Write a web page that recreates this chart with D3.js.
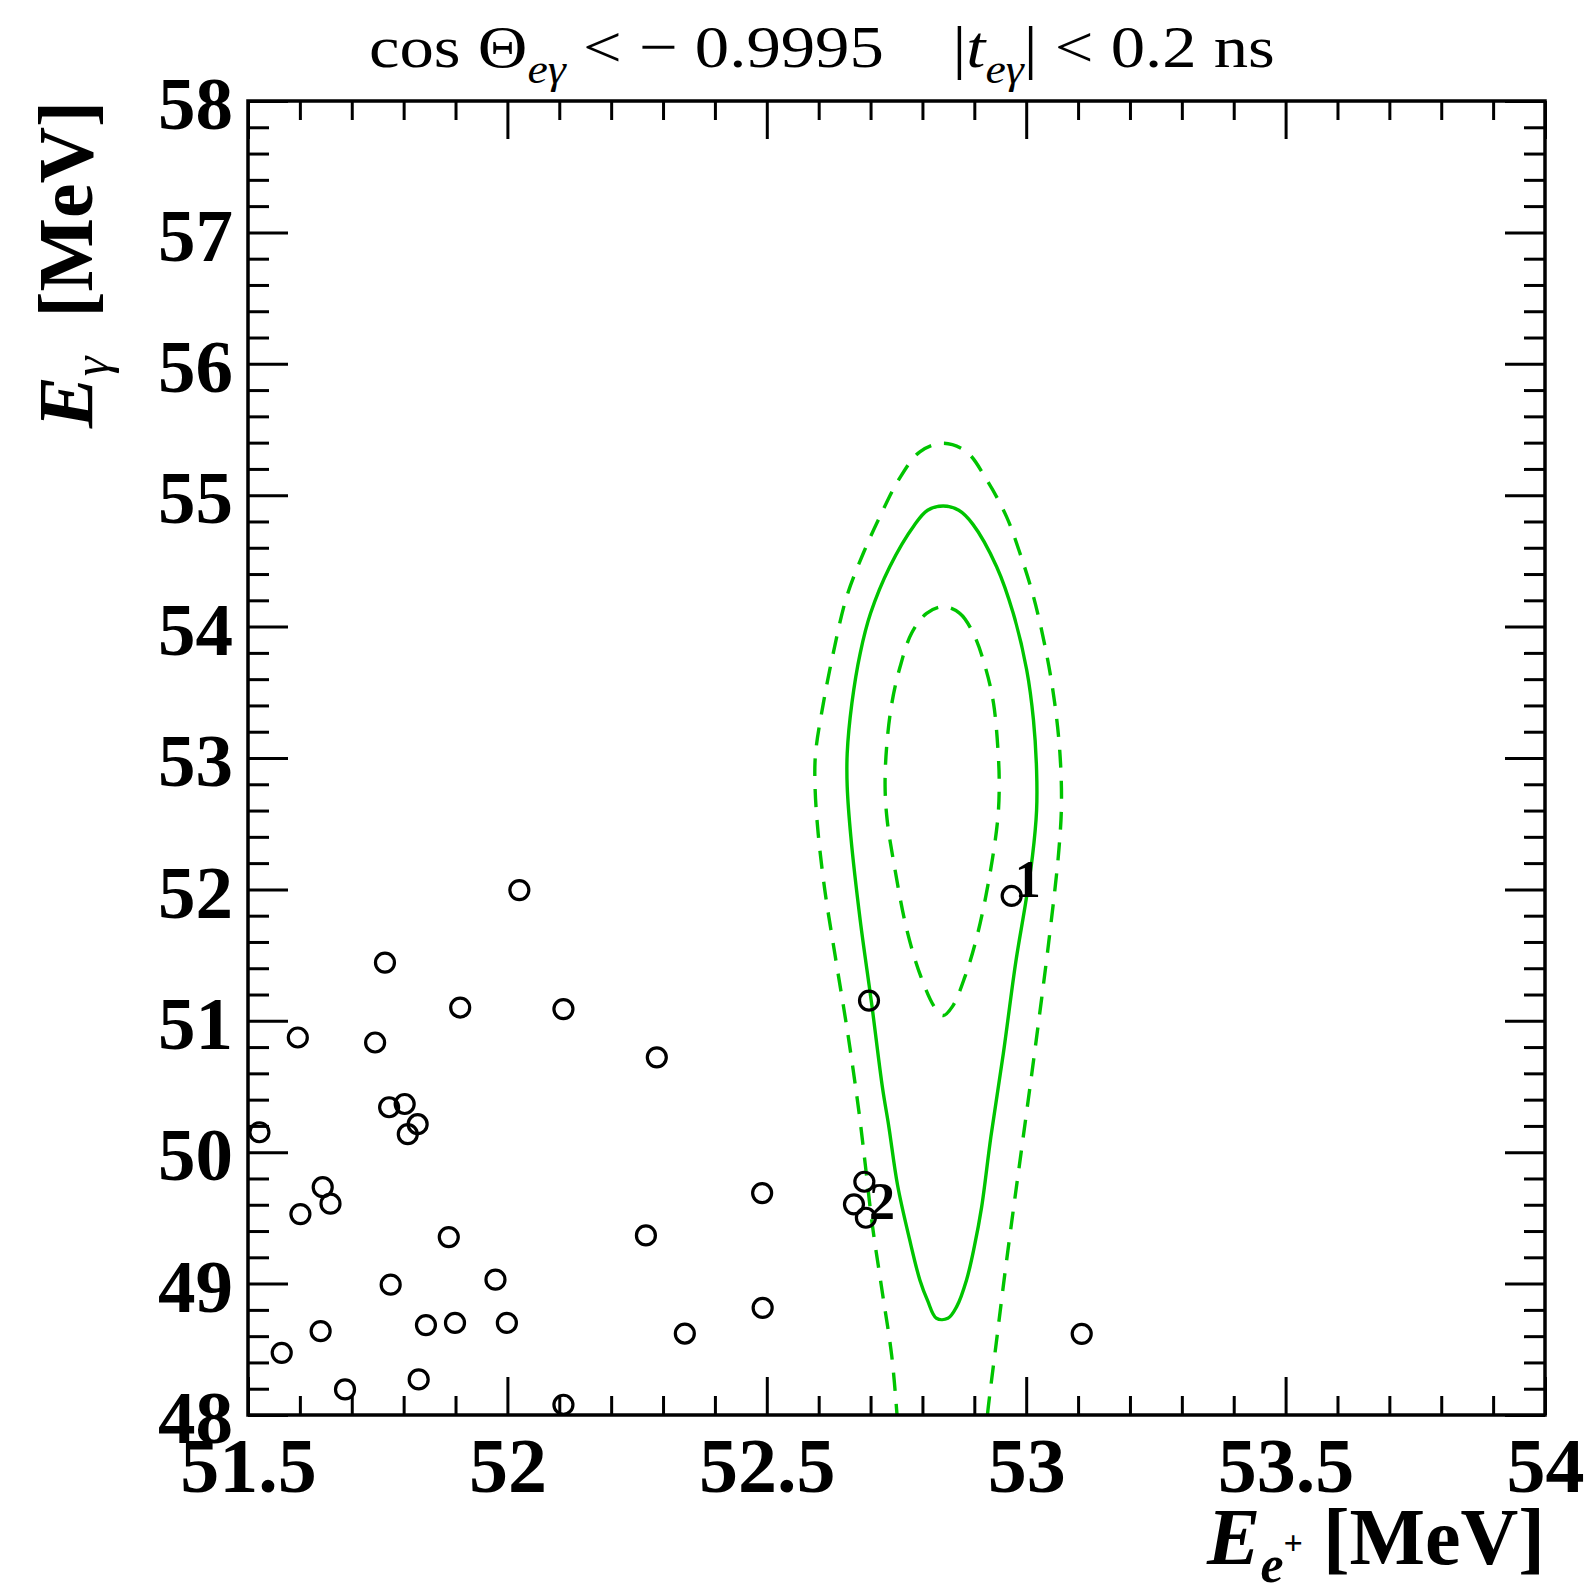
<!DOCTYPE html>
<html>
<head>
<meta charset="utf-8">
<script src="https://cdn.jsdelivr.net/npm/d3@7"></script>
<style>
  body { margin: 0; background: #fff; }
  svg { display: block; }
</style>
</head>
<body>
<svg id="chart" width="1584" height="1587"></svg>
<script>
// ---- data -------------------------------------------------------------
const xDomain = [51.5, 54];
const yDomain = [48, 58];
const xMajorTicks = [51.5, 52, 52.5, 53, 53.5, 54];
const yMajorTicks = [48, 49, 50, 51, 52, 53, 54, 55, 56, 57, 58];

// selected events: positron energy, photon energy (MeV)
const eventsEe = [52.023, 51.764, 51.909, 52.108, 51.596, 51.745, 52.288, 52.697, 52.972,
  51.522, 51.772, 51.802, 51.827, 51.808, 51.644, 51.659, 51.601, 51.887, 52.267,
  52.491, 52.688, 52.668, 52.691, 51.775, 51.977, 51.640, 51.843, 51.899, 51.999,
  52.492, 52.342, 53.107, 51.565, 51.687, 51.829, 52.108];
const eventsEg = [51.995, 51.443, 51.101, 51.089, 50.873, 50.835, 50.722, 51.154, 51.950,
  50.152, 50.342, 50.367, 50.213, 50.137, 49.734, 49.608, 49.529, 49.354, 49.367,
  49.689, 49.775, 49.603, 49.501, 48.992, 49.030, 48.638, 48.684, 48.701, 48.701,
  48.815, 48.620, 48.618, 48.473, 48.195, 48.271, 48.078];
// ranked candidates
const tagIndex = [8, 22];
const tagText = ["1", "2"];

// signal PDF contours: [E_e+, E_gamma]
const contourInner = [
  [52.840, 54.152], [52.872, 54.101], [52.898, 53.949], [52.921, 53.695], [52.937, 53.416],
  [52.946, 53.036], [52.948, 52.782], [52.945, 52.528], [52.928, 52.071], [52.905, 51.640],
  [52.882, 51.336], [52.858, 51.110], [52.840, 51.040], [52.824, 51.100], [52.797, 51.336],
  [52.770, 51.691], [52.745, 52.198], [52.732, 52.528], [52.728, 52.782], [52.731, 53.086],
  [52.741, 53.416], [52.757, 53.695], [52.779, 53.949], [52.808, 54.101]];
const contourMiddle = [
  [52.840, 54.918], [52.870, 54.885], [52.897, 54.780], [52.943, 54.456], [52.975, 54.101],
  [53.001, 53.670], [53.014, 53.289], [53.020, 52.909], [53.020, 52.600], [53.012, 52.250],
  [52.999, 51.900], [52.980, 51.450], [52.956, 50.753], [52.932, 50.120], [52.914, 49.580],
  [52.900, 49.281], [52.885, 49.028], [52.866, 48.825], [52.849, 48.736], [52.827, 48.736],
  [52.810, 48.870], [52.795, 49.028], [52.775, 49.340], [52.752, 49.750], [52.735, 50.200],
  [52.723, 50.490], [52.702, 51.133], [52.680, 51.767], [52.662, 52.401], [52.655, 52.782],
  [52.655, 53.036], [52.664, 53.416], [52.680, 53.797], [52.700, 54.101], [52.737, 54.456],
  [52.784, 54.770], [52.810, 54.885]];
const contourOuter = [
  [52.752, 47.95], [52.741, 48.444], [52.722, 48.951], [52.703, 49.459], [52.690, 49.900],
  [52.678, 50.296], [52.657, 50.880], [52.631, 51.514], [52.612, 51.990], [52.599, 52.427],
  [52.593, 52.782], [52.594, 53.036], [52.609, 53.416], [52.628, 53.797], [52.654, 54.228],
  [52.686, 54.558], [52.718, 54.837], [52.754, 55.116], [52.795, 55.330], [52.840, 55.395],
  [52.885, 55.330], [52.924, 55.116], [52.962, 54.837], [52.988, 54.558], [53.014, 54.228],
  [53.039, 53.797], [53.055, 53.416], [53.065, 53.036], [53.068, 52.655], [53.063, 52.300],
  [53.045, 51.650], [53.016, 50.753], [52.992, 50.050], [52.976, 49.585], [52.959, 49.078],
  [52.943, 48.571], [52.927, 48.063], [52.924, 47.95]];

// ---- layout -----------------------------------------------------------
const frame = { left: 248, right: 1545, top: 101, bottom: 1415 };
const serif = "'Liberation Serif', 'Times New Roman', Times, serif";
const green = "#00c400";

const svg = d3.select("#chart");
const x = d3.scaleLinear().domain(xDomain).range([frame.left, frame.right]);
const y = d3.scaleLinear().domain(yDomain).range([frame.bottom, frame.top]);

const xMinor = d3.range(51.5, 54.0001, 0.1).map(v => +v.toFixed(2)).filter(v => !xMajorTicks.includes(v));
const yMinor = d3.range(48, 58.0001, 0.2).map(v => +v.toFixed(2)).filter(v => !yMajorTicks.includes(v));

// ---- contours ---------------------------------------------------------
svg.append("clipPath").attr("id", "plot-clip")
  .append("rect")
  .attr("x", frame.left).attr("y", frame.top)
  .attr("width", frame.right - frame.left).attr("height", frame.bottom - frame.top);

const closedLine = d3.line().x(d => x(d[0])).y(d => y(d[1])).curve(d3.curveCatmullRomClosed.alpha(0.5));
const openLine = d3.line().x(d => x(d[0])).y(d => y(d[1])).curve(d3.curveCatmullRom.alpha(0.5));

const cg = svg.append("g").attr("clip-path", "url(#plot-clip)")
  .attr("fill", "none").attr("stroke", green).attr("stroke-width", 3.4);
cg.append("path").attr("d", openLine(contourOuter)).attr("stroke-dasharray", "18,13");
cg.append("path").attr("d", closedLine(contourMiddle));
cg.append("path").attr("d", closedLine(contourInner)).attr("stroke-dasharray", "18,13");

// ---- events -----------------------------------------------------------
const events = eventsEe.map((e, i) => ({ ee: e, eg: eventsEg[i] }));
svg.append("g")
  .selectAll("circle").data(events).join("circle")
  .attr("cx", d => x(d.ee)).attr("cy", d => y(d.eg))
  .attr("r", 9.5)
  .attr("fill", "none").attr("stroke", "#000").attr("stroke-width", 3.2);

svg.append("g")
  .selectAll("text").data(tagIndex).join("text")
  .attr("x", (d) => x(events[d].ee) + 3)
  .attr("y", (d) => y(events[d].eg) + 1)
  .attr("font-family", serif).attr("font-weight", "bold").attr("font-size", 52)
  .text((d, i) => tagText[i]);

// ---- axes (ticks point inward on all four sides) ------------------------
function styleAxis(g) {
  g.select(".domain").remove();
  g.selectAll(".tick line").attr("stroke", "#000").attr("stroke-width", 3);
}
svg.append("g").attr("transform", `translate(0,${frame.bottom})`)
  .call(d3.axisBottom(x).tickValues(xMinor).tickSize(-19).tickFormat("")).call(styleAxis);
svg.append("g").attr("transform", `translate(0,${frame.top})`)
  .call(d3.axisTop(x).tickValues(xMinor).tickSize(-19).tickFormat("")).call(styleAxis);
svg.append("g").attr("transform", `translate(0,${frame.top})`)
  .call(d3.axisTop(x).tickValues(xMajorTicks).tickSize(-38).tickFormat("")).call(styleAxis);
const xAxis = svg.append("g").attr("transform", `translate(0,${frame.bottom})`)
  .call(d3.axisBottom(x).tickValues(xMajorTicks).tickSize(-38).tickPadding(22).tickFormat(d3.format("")))
  .call(styleAxis);
xAxis.selectAll(".tick text")
  .attr("font-family", serif).attr("font-weight", "bold").attr("font-size", 78)
  .attr("fill", "#000").attr("dy", "0.71em");

svg.append("g").attr("transform", `translate(${frame.left},0)`)
  .call(d3.axisLeft(y).tickValues(yMinor).tickSize(-21).tickFormat("")).call(styleAxis);
svg.append("g").attr("transform", `translate(${frame.right},0)`)
  .call(d3.axisRight(y).tickValues(yMinor).tickSize(-21).tickFormat("")).call(styleAxis);
svg.append("g").attr("transform", `translate(${frame.right},0)`)
  .call(d3.axisRight(y).tickValues(yMajorTicks).tickSize(-40).tickFormat("")).call(styleAxis);
const yAxis = svg.append("g").attr("transform", `translate(${frame.left},0)`)
  .call(d3.axisLeft(y).tickValues(yMajorTicks).tickSize(-40).tickPadding(15).tickFormat(d3.format("d")))
  .call(styleAxis);
yAxis.selectAll(".tick text")
  .attr("font-family", serif).attr("font-weight", "bold").attr("font-size", 75)
  .attr("fill", "#000").attr("dy", "0.37em");

// frame
svg.append("rect")
  .attr("x", frame.left).attr("y", frame.top)
  .attr("width", frame.right - frame.left).attr("height", frame.bottom - frame.top)
  .attr("fill", "none").attr("stroke", "#000").attr("stroke-width", 3.5);

// ---- axis titles ------------------------------------------------------
const xt = svg.append("text")
  .attr("x", frame.right).attr("y", 1564)
  .attr("text-anchor", "end")
  .attr("font-family", serif).attr("font-weight", "bold").attr("font-size", 80);
xt.append("tspan").attr("font-style", "italic").text("E");
xt.append("tspan").attr("font-style", "italic").attr("font-size", 52).attr("dy", 18).text("e");
xt.append("tspan").attr("font-size", 34).attr("dy", -28).text("+");
xt.append("tspan").attr("dy", 10).text("\u00a0[MeV]");

const yt = svg.append("text")
  .attr("transform", `translate(92,${frame.top}) rotate(-90)`)
  .attr("text-anchor", "end")
  .attr("font-family", serif).attr("font-weight", "bold").attr("font-size", 78);
yt.append("tspan").attr("font-style", "italic").text("E");
yt.append("tspan").attr("font-style", "italic").attr("font-weight", "normal").attr("font-size", 50).attr("dy", 16).text("\u03b3");
yt.append("tspan").attr("dy", -16).text("\u00a0\u00a0[MeV]");

// ---- title ------------------------------------------------------------
const title = svg.append("text")
  .attr("x", 0).attr("y", 0)
  .attr("font-family", serif).attr("font-size", 60);
title.append("tspan").text("cos\u00a0\u0398");
title.append("tspan").attr("font-style", "italic").attr("font-size", 40).attr("dy", 16).text("e\u03b3");
title.append("tspan").attr("dy", -16).text("\u00a0<\u00a0\u2212\u00a00.9995\u00a0\u00a0\u00a0\u00a0|");
title.append("tspan").attr("font-style", "italic").text("t");
title.append("tspan").attr("font-style", "italic").attr("font-size", 40).attr("dy", 16).text("e\u03b3");
title.append("tspan").attr("dy", -16).text("|\u00a0<\u00a00.2\u00a0ns");
const tb = title.node().getBBox();
const titleLeft = 369, titleRight = 1275, titleBaseline = 67;
const sx = (titleRight - titleLeft) / tb.width;
title.attr("transform", `translate(${titleLeft - tb.x * sx},${titleBaseline}) scale(${sx},1)`);
</script>
</body>
</html>
